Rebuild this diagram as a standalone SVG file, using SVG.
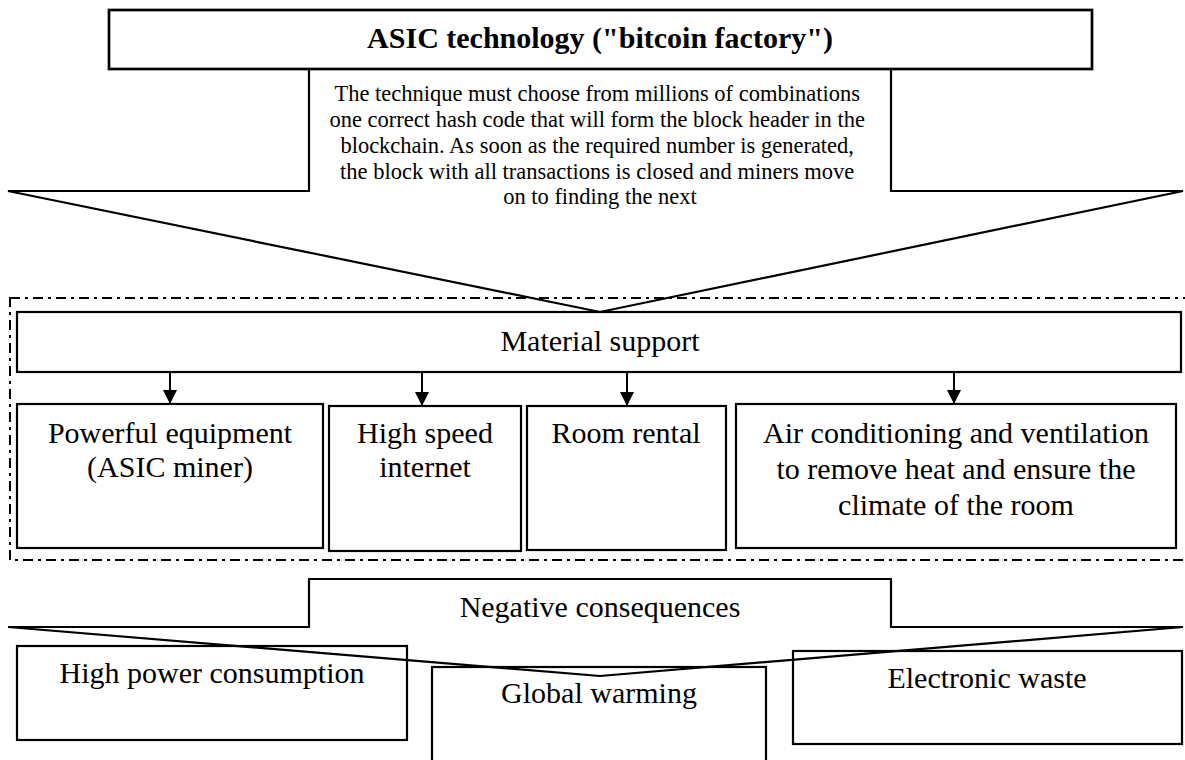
<svg xmlns="http://www.w3.org/2000/svg" width="1185" height="760" viewBox="0 0 1185 760">
<defs>
<style>
.t{font-family:"Liberation Serif","Times New Roman",serif;fill:#000;text-anchor:middle}
.b{fill:none;stroke:#000;stroke-width:2.2}
.c{fill:none;stroke:#000;stroke-width:2.2;stroke-linejoin:miter}
.dd{fill:none;stroke:#000;stroke-width:2;stroke-dasharray:10 5 3 5}
.arr{stroke:#000;stroke-width:2;fill:none}
</style>
<marker id="ah" viewBox="0 0 14 14" refX="13" refY="7" markerWidth="14" markerHeight="14" markerUnits="userSpaceOnUse" orient="auto">
<path d="M0,0 L14,7 L0,14 Z" fill="#000"/>
</marker>
</defs>
<rect width="1185" height="760" fill="#fff"/>

<g id="asic">
<path class="c" d="M309,69 V191 H8 L600,312 L1183,191 H891 V69"/>
<rect x="109" y="10" width="983" height="59" fill="none" stroke="#000" stroke-width="2.7"/>
<text class="t" x="600" y="48" font-size="30" font-weight="bold">ASIC technology ("bitcoin factory")</text>
<text class="t" font-size="22.5">
<tspan x="600" y="101">The technique must choose from millions of combinations</tspan>
<tspan x="600" y="127">one correct hash code that will form the block header in the</tspan>
<tspan x="600" y="153">blockchain. As soon as the required number is generated,</tspan>
<tspan x="600" y="179">the block with all transactions is closed and miners move</tspan>
<tspan x="600" y="204">on to finding the next</tspan>
</text>
</g>

<g id="material-group">
<rect class="dd" x="10" y="298" width="1180" height="262"/>
</g>

<g id="material">
<rect class="b" x="17" y="312" width="1164" height="60"/>
<text class="t" x="600" y="351" font-size="30">Material support</text>
</g>

<g id="equipment">
<rect class="b" x="17" y="404" width="306" height="144"/>
<text class="t" font-size="30"><tspan x="170" y="443">Powerful equipment</tspan><tspan x="170" y="477">(ASIC miner)</tspan></text>
</g>

<g id="internet">
<rect class="b" x="329" y="406" width="192" height="145"/>
<text class="t" font-size="30"><tspan x="425" y="443">High speed</tspan><tspan x="425" y="477">internet</tspan></text>
</g>

<g id="room">
<rect class="b" x="527" y="406" width="199" height="144"/>
<text class="t" x="626" y="443" font-size="30">Room rental</text>
</g>

<g id="air">
<rect class="b" x="736" y="404" width="440" height="144"/>
<text class="t" font-size="30"><tspan x="956" y="443">Air conditioning and ventilation</tspan><tspan x="956" y="479">to remove heat and ensure the</tspan><tspan x="956" y="515">climate of the room</tspan></text>
</g>

<g id="negative">
<path class="c" stroke-width="1.8" d="M8,627 H309 V579 H891 V627 H1183 L600,676 Z"/>
<text class="t" x="600" y="617" font-size="30">Negative consequences</text>
</g>

<g id="power">
<rect class="b" x="17" y="646" width="390" height="94"/>
<text class="t" x="212" y="683" font-size="30">High power consumption</text>
</g>

<g id="warming">
<rect class="b" x="432" y="667" width="334" height="110"/>
<text class="t" x="599" y="703" font-size="30">Global warming</text>
</g>

<g id="waste">
<rect class="b" x="793" y="651" width="389" height="93"/>
<text class="t" x="987" y="688" font-size="30">Electronic waste</text>
</g>

<g id="connectors">
<line class="arr" x1="170" y1="373" x2="170" y2="403" marker-end="url(#ah)"/>
<line class="arr" x1="422" y1="373" x2="422" y2="405" marker-end="url(#ah)"/>
<line class="arr" x1="627" y1="373" x2="627" y2="405" marker-end="url(#ah)"/>
<line class="arr" x1="954" y1="373" x2="954" y2="403" marker-end="url(#ah)"/>
</g>
</svg>
